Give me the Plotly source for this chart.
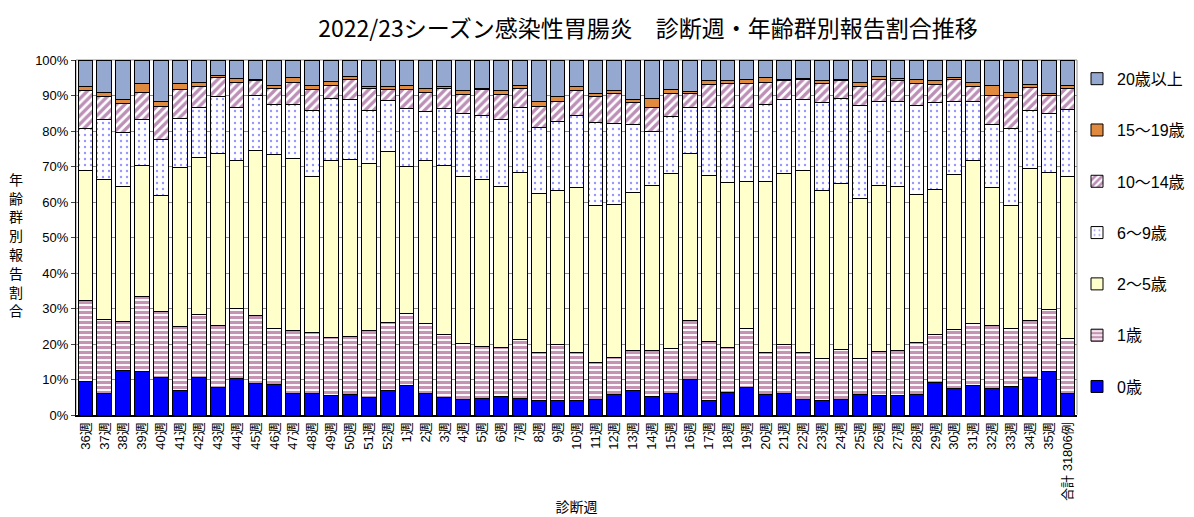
import plotly.graph_objects as go

weeks = [f"{w}週" for w in range(36, 53)] + [f"{w}週" for w in range(1, 36)] + ["合計 31806例"]

# cumulative tops (%), per age group
c0 = [9.5, 6.1, 12.6, 12.3, 10.6, 7.0, 10.6, 7.8, 10.4, 8.8, 8.7,
      6.1, 6.1, 5.6, 5.8, 4.9, 6.9,
      8.4, 6.1, 4.9, 4.5, 4.7, 5.3, 4.7, 4.0, 4.2, 4.2, 4.5, 5.9, 7.0, 5.3, 6.1, 10.0,
      4.2, 6.3, 7.7, 5.8, 6.1, 4.5, 4.2, 4.5, 5.8, 5.4, 5.6,
      5.8, 9.1, 7.5, 8.4, 7.5, 8.1, 10.7, 12.3, 6.1]
c1 = [32.2, 27.0, 26.3, 33.3, 29.1, 25.0, 28.2, 25.3, 30.0, 28.0, 24.4,
      23.8, 23.3, 21.8, 22.1, 23.8, 26.0,
      28.7, 25.9, 22.6, 20.2, 19.3, 19.1, 21.2, 17.7, 19.8, 17.5, 14.9, 16.3, 18.2, 18.2, 18.8, 26.7,
      20.8, 19.1, 24.5, 17.5, 20.0, 17.5, 15.8, 18.5, 16.0, 18.0, 18.2,
      20.5, 22.6, 24.2, 25.9, 25.2, 24.5, 26.7, 29.8, 21.6]
c2 = [69.0, 66.2, 64.3, 70.4, 61.9, 69.6, 72.4, 73.8, 71.8, 74.6, 73.4,
      72.2, 67.1, 71.7, 72.0, 70.8, 74.3,
      69.9, 71.8, 70.2, 67.1, 66.2, 64.3, 68.2, 62.4, 63.2, 64.0, 58.9, 59.2, 62.6, 64.6, 68.0, 73.6,
      67.6, 65.5, 65.7, 65.9, 68.0, 68.8, 63.2, 65.1, 60.9, 64.6, 64.5,
      62.2, 63.6, 67.8, 71.8, 64.0, 58.9, 69.4, 68.4, 67.3]
c3 = [80.7, 83.2, 79.6, 83.2, 77.5, 83.6, 86.7, 89.7, 86.7, 89.9, 87.4,
      87.6, 85.7, 89.2, 89.0, 85.9, 88.7,
      86.2, 85.5, 86.2, 84.8, 84.3, 83.2, 86.7, 81.1, 82.8, 84.5, 82.5, 82.0, 81.7, 79.9, 84.2, 86.7,
      86.7, 86.7, 86.7, 87.4, 89.0, 88.8, 88.1, 89.2, 87.1, 88.3, 88.3,
      87.1, 87.9, 88.4, 88.4, 81.7, 80.8, 85.9, 85.0, 86.0]
c4 = [91.3, 89.7, 87.8, 90.9, 86.9, 91.6, 92.5, 95.2, 93.8, 94.1, 92.0,
      93.8, 91.7, 92.9, 94.6, 92.1, 91.6,
      91.8, 90.9, 92.0, 90.2, 91.6, 90.2, 92.1, 86.9, 88.3, 91.3, 89.7, 90.7, 88.1, 86.7, 90.6, 90.7,
      93.0, 93.5, 93.4, 93.8, 94.1, 94.4, 93.5, 94.1, 92.5, 94.4, 94.1,
      93.5, 93.2, 94.4, 92.5, 90.1, 89.5, 92.3, 89.9, 92.0]
c5 = [92.5, 90.9, 88.8, 93.4, 88.3, 93.4, 93.7, 95.5, 94.8, 94.6, 92.7,
      95.2, 92.9, 93.9, 95.4, 92.5, 92.5,
      92.9, 92.0, 92.5, 91.3, 92.1, 91.3, 92.9, 88.3, 89.7, 92.5, 90.6, 91.3, 88.8, 89.2, 91.7, 91.1,
      94.1, 94.1, 94.4, 95.1, 94.6, 94.9, 94.1, 94.6, 93.6, 95.4, 94.8,
      94.4, 94.1, 95.1, 93.8, 92.9, 90.9, 93.2, 90.6, 92.9]

tops = [c0, c1, c2, c3, c4, c5, [100.0] * len(weeks)]
names = ["0歳", "1歳", "2〜5歳", "6〜9歳", "10〜14歳", "15〜19歳", "20歳以上"]
ytitle_chars = list("年齢群別報告割合")

def diffs(i):
    lo = tops[i - 1] if i > 0 else [0.0] * len(weeks)
    return [round(a - b, 2) for a, b in zip(tops[i], lo)]

purple = "#7A1F6E"
styles = [
    dict(color="#0000FF"),
    dict(color="white", pattern=dict(shape="-", fgcolor="#8A2A66", bgcolor="white", size=5, solidity=0.62, fillmode="overlay")),
    dict(color="#FFFFCC"),
    dict(color="white", pattern=dict(shape=".", fgcolor="#2B2BFF", bgcolor="white", size=6, solidity=0.12, fillmode="overlay")),
    dict(color="white", pattern=dict(shape="/", fgcolor=purple, bgcolor="white", size=6, solidity=0.55, fillmode="overlay")),
    dict(color="#E08A40"),
    dict(color="#95A8CF"),
]

font_fam = "Liberation Sans, Arial, Noto Sans CJK JP, sans-serif"

fig = go.Figure()
for i, nm in enumerate(names):
    m = dict(styles[i])
    m["line"] = dict(color="black", width=1)
    fig.add_trace(go.Bar(x=weeks, y=diffs(i), name=nm, marker=m, legendgroup=nm,
                         legendrank=100 - i))

fig.update_layout(
    barmode="stack",
    bargap=0.22,
    width=1194, height=517,
    margin=dict(l=68, r=105, t=52, b=106),
    paper_bgcolor="white", plot_bgcolor="white",
    font=dict(family=font_fam, size=13, color="black"),
    title=dict(text="2022/23シーズン感染性胃腸炎\u3000診断週・年齢群別報告割合推移",
               xref="container", x=0.536, xanchor="center", y=0.96, yanchor="middle",
               font=dict(family="Noto Sans CJK JP, sans-serif", size=23, color="black")),
    legend=dict(traceorder="grouped", tracegroupgap=27.5, x=1.0, xanchor="left",
                y=0.995, yanchor="top", font=dict(size=16, family=font_fam),
                itemwidth=30, bgcolor="rgba(0,0,0,0)"),
    showlegend=True,
)
fig.update_xaxes(tickangle=-90, showline=True, linecolor="black", linewidth=2,
                 tickfont=dict(size=13), ticks="", showgrid=False,
                 title=dict(text="診断週", font=dict(size=14, family="Noto Sans CJK JP, sans-serif"), standoff=2))
fig.update_yaxes(range=[0, 100], dtick=10, ticksuffix="%", showline=True, linecolor="black",
                 linewidth=1, gridcolor="#8C8C8C", gridwidth=1, ticks="outside", ticklen=4,
                 tickfont=dict(size=13))
fig.add_shape(type="rect", xref="paper", yref="paper", x0=0, x1=1, y0=0, y1=1,
              line=dict(color="#8C8C8C", width=1), layer="below")

n = len(ytitle_chars)
step = 19.0 / 359.0
for k, ch in enumerate(ytitle_chars):
    fig.add_annotation(text=ch, xref="paper", yref="paper",
                       x=-0.06, y=0.48 + ((n - 1) / 2 - k) * step,
                       xanchor="center", yanchor="middle", showarrow=False,
                       font=dict(size=14, family="Noto Sans CJK JP, sans-serif"))

fig.write_html("out.html")
